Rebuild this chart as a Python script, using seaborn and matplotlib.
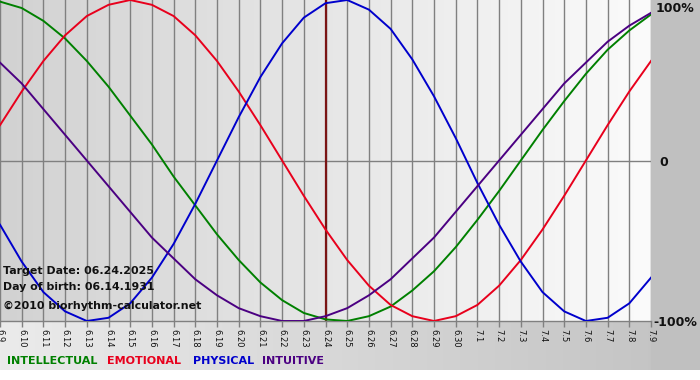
import numpy as np
import pandas as pd
import matplotlib
matplotlib.use("Agg")
import matplotlib.pyplot as plt
from matplotlib.colors import LinearSegmentedColormap
import seaborn as sns

# ---- data ----
dates = ["6.9", "6.10", "6.11", "6.12", "6.13", "6.14", "6.15", "6.16", "6.17", "6.18",
         "6.19", "6.20", "6.21", "6.22", "6.23", "6.24", "6.25", "6.26", "6.27", "6.28",
         "6.29", "6.30", "7.1", "7.2", "7.3", "7.4", "7.5", "7.6", "7.7", "7.8", "7.9"]
physical = [-40, -63, -82, -94, -100, -98, -89, -73, -52, -27, 0, 27, 52, 73, 89, 98,
            100, 94, 82, 63, 40, 14, -14, -40, -63, -82, -94, -100, -98, -89, -73]
emotional = [22, 43, 62, 78, 90, 97, 100, 97, 90, 78, 62, 43, 22, 0, -22, -43,
             -62, -78, -90, -97, -100, -97, -90, -78, -62, -43, -22, 0, 22, 43, 62]
intellectual = [99, 95, 87, 76, 62, 46, 28, 10, -10, -28, -46, -62, -76, -87, -95, -99,
                -100, -97, -91, -81, -69, -54, -37, -19, 0, 19, 37, 54, 69, 81, 91]
intuitive = [61, 48, 32, 16, 0, -16, -32, -48, -61, -74, -84, -92, -97, -100, -100, -97,
             -92, -84, -74, -61, -48, -32, -16, 0, 16, 32, 48, 61, 74, 84, 92]
series_names = ["INTELLECTUAL", "EMOTIONAL", "PHYSICAL", "INTUITIVE"]
series_colors = ["#008000", "#e8001c", "#0000cc", "#4b0082"]
target_label = "6.24"

W, H = 700, 380
fig = plt.figure(figsize=(7, 3.8), dpi=100, facecolor="white")

def fx(x):
    return x / W

def fy(y):
    return 1 - y / H

# background: bottom gradient + right gray margin
bg = fig.add_axes([0, fy(370), 1, (370) / H])
bg.set_axis_off()
grad = np.linspace(0, 1, 256).reshape(1, -1)
cmap_bg = LinearSegmentedColormap.from_list("bg", ["#ebebeb", "#c2c2c2"])
bg.imshow(grad, aspect="auto", cmap=cmap_bg, extent=[0, 1, 0, 1])
bg.axvspan(651 / 700, 1, color="#c0c0c0")
bg.set_xlim(0, 1)
bg.set_ylim(0, 1)

# main plot
ax = fig.add_axes([0, fy(321), 651 / W, 321 / H])
cmap_plot = LinearSegmentedColormap.from_list("pl", ["#d2d2d2", "#fbfbfb"])
ax.imshow(grad, aspect="auto", cmap=cmap_plot, extent=[0, len(dates) - 1, -100, 100], zorder=0)

x = np.arange(len(dates))
df = pd.DataFrame({"x": np.tile(x, 4),
                   "value": intellectual + emotional + physical + intuitive,
                   "series": np.repeat(series_names, len(dates))})

for i in x:
    ax.axvline(i, color="#808080", lw=1.0, zorder=1)
ax.axhline(0, color="#808080", lw=1.0, zorder=1)
ax.axvline(dates.index(target_label), color="#7a1414", lw=1.6, zorder=2)

sns.lineplot(data=df, x="x", y="value", hue="series", palette=dict(zip(series_names, series_colors)),
             hue_order=series_names, lw=1.4, legend=False, ax=ax, zorder=3)

ax.set_xlim(0, len(dates) - 1)
ax.set_ylim(-100, 100)
ax.set_xticks(x)
ax.set_xticklabels(dates, rotation=-90, fontsize=6, color="#111111")
ax.tick_params(axis="x", direction="out", length=4, width=1, color="#808080", pad=1.5)
ax.set_yticks([])
ax.set_xlabel("")
ax.set_ylabel("")
for s in ["left", "right", "top"]:
    ax.spines[s].set_visible(False)
ax.spines["bottom"].set_color("#808080")
ax.spines["bottom"].set_linewidth(1.0)

# right axis labels
fig.text(fx(656), fy(8), "100%", fontsize=9, fontweight="bold", va="center", ha="left", color="#111111")
fig.text(fx(659), fy(162), "0", fontsize=9, fontweight="bold", va="center", ha="left", color="#111111")
fig.text(fx(653), fy(322), "-100%", fontsize=9, fontweight="bold", va="center", ha="left", color="#111111")

# info text
fig.text(fx(3), fy(271), "Target Date: 06.24.2025", fontsize=7.9, fontweight="bold", va="center", color="#111111")
fig.text(fx(3), fy(287), "Day of birth: 06.14.1931", fontsize=7.9, fontweight="bold", va="center", color="#111111")
fig.text(fx(3), fy(306), "\u00a92010 biorhythm-calculator.net", fontsize=7.9, fontweight="bold", va="center", color="#111111")

# legend text
leg_x = [7, 107, 193, 262]
for name, col, lx in zip(series_names, series_colors, leg_x):
    fig.text(fx(lx), fy(361), name, fontsize=8, fontweight="bold", va="center", ha="left", color=col)

fig.savefig("out.png", dpi=100, facecolor="white")
